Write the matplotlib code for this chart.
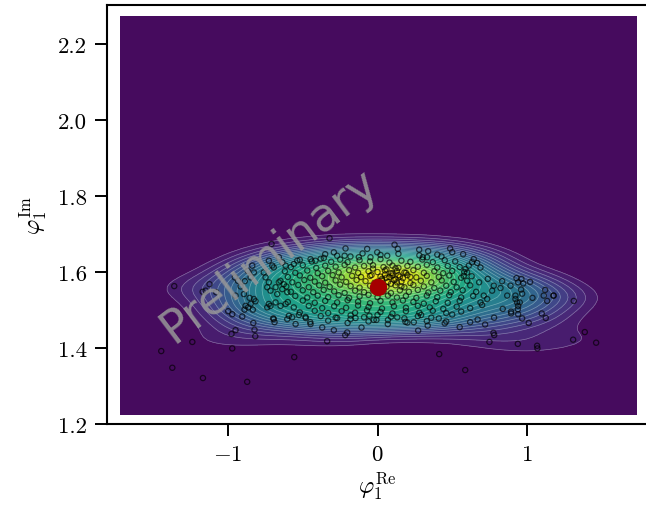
import numpy as np
import matplotlib
matplotlib.use("Agg")
import matplotlib.pyplot as plt

# ---- DATA ----
# sample points (phi_1^Re, phi_1^Im)
samples = [
    # outliers / edges
    (-1.36, 1.563), (-1.447, 1.392), (-1.373, 1.348), (-1.168, 1.321), (-0.872, 1.311),
    (-0.972, 1.399), (-1.239, 1.416), (-0.557, 1.376), (-0.818, 1.431), (-0.823, 1.448),
    (-0.977, 1.437), (-0.95, 1.447), (-1.17, 1.548), (-1.15, 1.551), (-1.124, 1.568),
    (-1.08, 1.547), (-0.709, 1.674),
    (0.413, 1.384), (0.587, 1.342), (0.776, 1.44), (0.749, 1.416), (-0.337, 1.418),
    (-0.216, 1.434), (-0.203, 1.441), (-0.321, 1.689), (0.114, 1.672), (0.279, 1.659),
    (0.339, 1.655), (0.486, 1.662), (0.573, 1.647),
    (1.313, 1.524), (1.387, 1.442), (1.463, 1.414), (1.309, 1.422), (1.068, 1.406),
    (1.07, 1.399), (0.939, 1.411), (1.126, 1.479), (1.099, 1.491), (1.177, 1.538),
    (1.135, 1.524), (1.122, 1.553), (1.112, 1.538), (1.037, 1.532), (1.021, 1.574),
    (0.963, 1.582), (0.975, 1.57), (0.93, 1.584), (0.941, 1.573), (1.012, 1.466),
    (0.968, 1.478), (0.941, 1.489), (0.939, 1.502), (0.941, 1.511), (0.934, 1.52),
    (0.961, 1.554), (0.968, 1.543), (0.894, 1.496), (0.894, 1.491), (0.838, 1.503),
    (0.781, 1.434),
    # right part of the cloud
    (0.428, 1.641), (0.644, 1.634), (0.633, 1.626), (0.611, 1.617), (0.667, 1.624),
    (0.689, 1.612), (0.589, 1.608), (0.6, 1.599), (0.577, 1.59), (0.738, 1.582),
    (0.778, 1.564), (0.834, 1.576), (0.823, 1.558), (0.767, 1.551), (0.711, 1.538),
    (0.734, 1.529), (0.689, 1.52), (0.7, 1.513), (0.89, 1.564), (0.923, 1.538),
    (0.923, 1.529), (0.952, 1.52), (0.868, 1.538), (1.179, 1.538),
    (0.62, 1.468), (0.67, 1.475), (0.72, 1.462), (0.78, 1.48), (0.55, 1.455),
    (0.46, 1.47), (0.5, 1.488), (0.41, 1.478),
    # left part of the cloud
    (-0.955, 1.586), (-0.934, 1.577), (-0.916, 1.562), (-0.888, 1.576), (-0.868, 1.603),
    (-0.838, 1.617), (-0.827, 1.599), (-0.849, 1.586), (-0.95, 1.538), (-0.894, 1.542),
    (-0.856, 1.532), (-0.827, 1.529), (-0.883, 1.511), (-0.816, 1.523), (-0.849, 1.516),
    (-0.749, 1.586), (-0.727, 1.573), (-0.738, 1.56), (-0.716, 1.551), (-0.761, 1.599),
    (-0.704, 1.617), (-0.694, 1.612), (-0.727, 1.63), (-0.66, 1.639), (-0.637, 1.626),
    (-0.615, 1.617), (-0.727, 1.516), (-0.682, 1.52), (-0.649, 1.511), (-0.615, 1.516),
    (-0.671, 1.542), (-0.637, 1.555), (-0.604, 1.547), (-0.627, 1.568), (-0.66, 1.573),
    (-0.682, 1.56),
    (-0.831, 1.466), (-0.905, 1.483), (-0.89, 1.501), (-0.999, 1.497), (-0.972, 1.489),
    (-0.865, 1.507), (-0.834, 1.501), (-0.694, 1.476), (-0.689, 1.468), (-0.698, 1.478),
    (-0.604, 1.476), (-0.593, 1.485), (-0.738, 1.507), (-0.716, 1.511),
    # lower middle
    (-0.292, 1.447), (-0.37, 1.454), (-0.448, 1.463), (-0.548, 1.463), (-0.482, 1.482),
    (-0.526, 1.487), (-0.571, 1.481), (-0.27, 1.479), (-0.181, 1.476), (-0.147, 1.479),
    (-0.107, 1.454), (-0.054, 1.485), (-0.025, 1.474), (-0.007, 1.474), (0.069, 1.463),
    (0.132, 1.481), (0.187, 1.469), (0.243, 1.468), (0.292, 1.487), (0.272, 1.446),
    (0.336, 1.459),
    # upper middle
    (-0.214, 1.662), (-0.069, 1.661), (-0.002, 1.652), (0.136, 1.661), (0.303, 1.639),
    (0.332, 1.639), (0.065, 1.643), (-0.047, 1.639), (-0.125, 1.639), (-0.181, 1.641),
    (-0.27, 1.643), (-0.292, 1.652), (-0.359, 1.637), (-0.415, 1.63), (-0.448, 1.634),
    (-0.537, 1.63), (-0.56, 1.621),
    (-0.35, 1.647), (-0.22, 1.643), (-0.1, 1.649), (0.02, 1.645), (0.14, 1.648),
    (0.28, 1.644), (0.4, 1.646), (0.5, 1.652),
    # dense core, band by band
    (-0.52, 1.632), (-0.44, 1.628), (-0.38, 1.635), (-0.31, 1.627), (-0.25, 1.633),
    (-0.2, 1.626), (-0.12, 1.631), (-0.05, 1.628), (0.02, 1.634), (0.08, 1.625),
    (0.16, 1.63), (0.22, 1.627), (0.3, 1.633), (0.37, 1.626), (0.45, 1.631), (0.52, 1.628),
    (-0.58, 1.613), (-0.5, 1.618), (-0.41, 1.611), (-0.35, 1.617), (-0.28, 1.614),
    (-0.22, 1.619), (-0.15, 1.612), (-0.09, 1.616), (-0.03, 1.618), (0.04, 1.613),
    (0.1, 1.617), (0.14, 1.611), (0.2, 1.616), (0.27, 1.614), (0.33, 1.619),
    (0.4, 1.612), (0.47, 1.616), (0.55, 1.613),
    (-0.62, 1.602), (-0.55, 1.598), (-0.47, 1.604), (-0.4, 1.597), (-0.33, 1.603),
    (-0.26, 1.599), (-0.19, 1.605), (-0.13, 1.598), (-0.06, 1.602), (0.0, 1.6),
    (0.05, 1.604), (0.09, 1.597), (0.13, 1.603), (0.18, 1.599), (0.24, 1.605),
    (0.31, 1.598), (0.38, 1.602), (0.44, 1.597), (0.5, 1.603), (0.58, 1.6),
    (-0.6, 1.587), (-0.52, 1.591), (-0.45, 1.585), (-0.37, 1.589), (-0.3, 1.592),
    (-0.24, 1.586), (-0.17, 1.59), (-0.11, 1.587), (-0.04, 1.592), (0.02, 1.588),
    (0.06, 1.585), (0.1, 1.591), (0.15, 1.588), (0.2, 1.592), (0.26, 1.586),
    (0.33, 1.59), (0.41, 1.587), (0.48, 1.591), (0.56, 1.585), (0.63, 1.589),
    (-0.65, 1.577), (-0.57, 1.573), (-0.49, 1.579), (-0.42, 1.575), (-0.35, 1.572),
    (-0.28, 1.578), (-0.21, 1.574), (-0.14, 1.579), (-0.08, 1.576), (-0.02, 1.572),
    (0.03, 1.578), (0.07, 1.574), (0.11, 1.579), (0.16, 1.575), (0.22, 1.571),
    (0.29, 1.577), (0.36, 1.573), (0.43, 1.578), (0.51, 1.574), (0.6, 1.577), (0.68, 1.573),
    (-0.61, 1.562), (-0.53, 1.566), (-0.46, 1.56), (-0.39, 1.565), (-0.32, 1.561),
    (-0.25, 1.567), (-0.18, 1.563), (-0.12, 1.559), (-0.05, 1.564), (0.01, 1.567),
    (0.06, 1.561), (0.12, 1.565), (0.18, 1.56), (0.24, 1.566), (0.31, 1.562),
    (0.38, 1.558), (0.46, 1.564), (0.53, 1.56), (0.62, 1.565),
    (-0.58, 1.548), (-0.5, 1.552), (-0.43, 1.547), (-0.36, 1.553), (-0.29, 1.549),
    (-0.22, 1.545), (-0.15, 1.551), (-0.09, 1.547), (-0.03, 1.553), (0.04, 1.549),
    (0.09, 1.545), (0.15, 1.552), (0.21, 1.548), (0.27, 1.553), (0.34, 1.546),
    (0.42, 1.551), (0.49, 1.547), (0.57, 1.552), (0.66, 1.548),
    (-0.55, 1.537), (-0.47, 1.533), (-0.4, 1.538), (-0.33, 1.534), (-0.26, 1.539),
    (-0.19, 1.532), (-0.12, 1.536), (-0.06, 1.54), (0.0, 1.534), (0.07, 1.538),
    (0.13, 1.533), (0.19, 1.537), (0.26, 1.532), (0.33, 1.538), (0.4, 1.534),
    (0.48, 1.539), (0.56, 1.533), (0.64, 1.537),
    (-0.6, 1.521), (-0.5, 1.525), (-0.42, 1.519), (-0.35, 1.524), (-0.27, 1.52),
    (-0.2, 1.526), (-0.13, 1.522), (-0.05, 1.518), (0.02, 1.524), (0.1, 1.52),
    (0.17, 1.525), (0.24, 1.521), (0.31, 1.517), (0.39, 1.523), (0.47, 1.519), (0.55, 1.524),
    (-0.56, 1.507), (-0.46, 1.511), (-0.37, 1.505), (-0.29, 1.51), (-0.21, 1.506),
    (-0.13, 1.512), (-0.06, 1.508), (0.03, 1.504), (0.11, 1.51), (0.19, 1.506),
    (0.27, 1.511), (0.35, 1.507), (0.44, 1.503), (0.53, 1.509), (0.62, 1.505),
    (-0.52, 1.494), (-0.42, 1.498), (-0.33, 1.492), (-0.24, 1.497), (-0.15, 1.493),
    (-0.07, 1.499), (0.02, 1.495), (0.1, 1.491), (0.19, 1.497), (0.28, 1.493),
    (0.37, 1.498), (0.46, 1.492), (0.56, 1.496),
    (-0.48, 1.479), (-0.38, 1.484), (-0.28, 1.48), (-0.18, 1.486), (-0.09, 1.481),
    (0.0, 1.487), (0.09, 1.482), (0.18, 1.478), (0.27, 1.484), (0.36, 1.48),
    (-0.45, 1.468), (-0.33, 1.472), (-0.2, 1.466), (-0.06, 1.47), (0.07, 1.474),
    (0.2, 1.467), (0.33, 1.471), (0.45, 1.465),
    # extra points in the yellow core
    (-0.05, 1.59), (0.03, 1.582), (0.05, 1.593), (0.08, 1.587), (0.1, 1.596),
    (0.12, 1.581), (0.14, 1.592), (0.17, 1.584), (0.19, 1.598), (0.22, 1.587),
    (0.0, 1.575), (0.09, 1.569), (0.13, 1.573), (-0.03, 1.609), (0.06, 1.607),
    (0.12, 1.61), (0.16, 1.562),
]
best_fit = (0.0, 1.5605)   # red marker

x_ticks = [-1, 0, 1]
y_ticks = [1.2, 1.4, 1.6, 1.8, 2.0, 2.2]

# ---- STYLE ----
plt.rcParams["font.family"] = "serif"
plt.rcParams["font.serif"] = ["cmr10"]
plt.rcParams["mathtext.fontset"] = "cm"
plt.rcParams["axes.formatter.use_mathtext"] = True

pts = np.array(samples)
sx, sy = pts[:, 0], pts[:, 1]

# ---- KDE (gaussian, scott bandwidth, a bit wider) ----
data = np.vstack([sx, sy])
n = data.shape[1]
factor = 1.15 * n ** (-1.0 / 6)
cov = np.cov(data) * factor ** 2
inv_cov = np.linalg.inv(cov)
norm = 1.0 / (2 * np.pi * np.sqrt(np.linalg.det(cov)) * n)

gx = np.linspace(-1.72, 1.733, 90)
gy = np.linspace(1.226, 2.274, 120)
GX, GY = np.meshgrid(gx, gy)
grid = np.vstack([GX.ravel(), GY.ravel()])
d = grid[:, :, None] - data[:, None, :]
q = (inv_cov[0, 0] * d[0] ** 2 + 2 * inv_cov[0, 1] * d[0] * d[1]
     + inv_cov[1, 1] * d[1] ** 2)
Z = (np.exp(-0.5 * q).sum(axis=1) * norm).reshape(GX.shape)

zmax = Z.max()
levels = np.concatenate([[0.0], np.linspace(0.06 * zmax, zmax, 28)])

# ---- PLOT ----
fig = plt.figure(figsize=(6.46, 5.10), dpi=100)
ax = fig.add_axes([107 / 646, 85 / 510, 541 / 646, 419 / 510])

ax.contourf(GX, GY, Z, levels=levels, cmap="viridis", zorder=1)
ax.contour(GX, GY, Z, levels=levels[1:], colors="white", linewidths=0.5,
           alpha=0.35, zorder=2)
ax.scatter(sx, sy, s=14, facecolors="none", edgecolors="black",
           linewidths=0.9, alpha=0.65, zorder=3)
ax.scatter([best_fit[0]], [best_fit[1]], s=130, color="#a50000", zorder=4)

ax.text(-0.72, 1.645, "Preliminary", rotation=37, fontsize=33,
        family="DejaVu Sans", color="#999999", alpha=0.85,
        ha="center", va="center", zorder=5)

ax.set_xlim(-1.81, 1.81)
ax.set_ylim(1.2, 2.303)
ax.set_xticks(x_ticks)
ax.set_yticks(y_ticks)
ax.set_yticklabels([f"{v:.1f}" for v in y_ticks])
ax.tick_params(direction="out", length=8.5, width=1.4, labelsize=16.5, pad=6)
for sp in ax.spines.values():
    sp.set_linewidth(1.5)

ax.set_xlabel(r"$\varphi_1^{\rm Re}$", fontsize=17, labelpad=4)
ax.set_ylabel(r"$\varphi_1^{\rm Im}$", fontsize=17, labelpad=6)

fig.savefig("out.png", dpi=100)
